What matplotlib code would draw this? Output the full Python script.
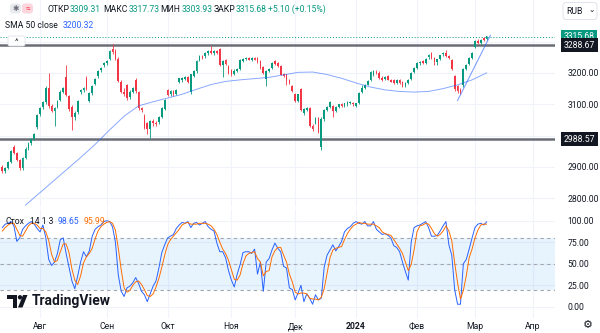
import matplotlib
matplotlib.use("Agg")
import matplotlib.pyplot as plt
import matplotlib.patches as mpatches
from matplotlib.transforms import blended_transform_factory
import numpy as np
import pandas as pd

plt.rcParams["font.family"] = ["Roboto", "DejaVu Sans"]

# ── данные ──
opens = [
    2898, 2888, 2897, 2915, 2962, 2945, 2922, 2895, 2930, 2960,
    2975, 2990, 3026, 3068, 3092, 3108, 3150, 3094, 3080, 3092,
    3115, 3140, 3186, 3126, 3092, 3058, 3075, 3138, 3146, 3182,
    3112, 3135, 3165, 3190, 3208, 3225, 3232, 3245, 3275, 3270,
    3245, 3170, 3140, 3162, 3122, 3140, 3178, 3138, 3087, 3062,
    3040, 3020, 3045, 3040, 3042, 3060, 3086, 3145, 3134, 3142,
    3134, 3172, 3178, 3180, 3186, 3140, 3190, 3205, 3243, 3254,
    3253, 3264, 3270, 3264, 3270, 3275, 3227, 3242, 3221, 3210,
    3196, 3207, 3214, 3238, 3244, 3248, 3243, 3247, 3248, 3237,
    3218, 3180, 3205, 3216, 3238, 3232, 3221, 3195, 3195, 3178,
    3157, 3131, 3110, 3147, 3072, 3083, 3088, 3030, 3040, 3054,
    2962, 3052, 3082, 3092, 3094, 3080, 3092, 3100, 3094, 3100,
    3104, 3104, 3096, 3103, 3140, 3152, 3163, 3178, 3194, 3203,
    3200, 3184, 3180, 3188, 3178, 3176, 3168, 3178, 3170, 3159,
    3168, 3180, 3203, 3215, 3231, 3236, 3232, 3250, 3263, 3247,
    3236, 3246, 3260, 3264, 3252, 3240, 3188, 3156, 3146, 3160,
    3214, 3230, 3248, 3284, 3302, 3297, 3311, 3309.31,
]
highs = [
    2905, 2900, 2918, 2955, 2970, 2948, 2926, 2932, 2962, 2978,
    2992, 3008, 3070, 3092, 3112, 3158, 3200, 3100, 3090, 3115,
    3145, 3155, 3226, 3130, 3098, 3078, 3115, 3150, 3155, 3190,
    3140, 3162, 3184, 3208, 3218, 3236, 3240, 3274, 3292, 3275,
    3250, 3176, 3152, 3166, 3145, 3155, 3184, 3142, 3092, 3068,
    3045, 3050, 3052, 3046, 3064, 3090, 3118, 3150, 3146, 3146,
    3150, 3185, 3186, 3190, 3190, 3198, 3208, 3240, 3256, 3258,
    3266, 3272, 3285, 3272, 3274, 3280, 3242, 3246, 3226, 3214,
    3212, 3216, 3244, 3248, 3252, 3252, 3250, 3252, 3252, 3240,
    3222, 3208, 3216, 3236, 3242, 3236, 3225, 3200, 3198, 3182,
    3160, 3135, 3134, 3152, 3088, 3092, 3092, 3036, 3058, 3060,
    3058, 3085, 3095, 3110, 3098, 3094, 3102, 3104, 3104, 3110,
    3112, 3108, 3104, 3138, 3160, 3165, 3178, 3206, 3210, 3208,
    3206, 3190, 3190, 3192, 3182, 3182, 3180, 3182, 3174, 3172,
    3182, 3202, 3218, 3234, 3238, 3240, 3248, 3262, 3268, 3250,
    3246, 3258, 3268, 3272, 3256, 3244, 3194, 3162, 3152, 3216,
    3228, 3250, 3266, 3306, 3308, 3310, 3315, 3317.73,
]
lows = [
    2880, 2882, 2893, 2912, 2940, 2918, 2890, 2890, 2926, 2955,
    2970, 2985, 3022, 3062, 3085, 3100, 3088, 3075, 3030, 3088,
    3110, 3135, 3125, 3080, 3018, 3050, 3070, 3132, 3140, 3145,
    3108, 3130, 3160, 3185, 3203, 3220, 3226, 3240, 3262, 3240,
    3170, 3135, 3128, 3115, 3118, 3136, 3136, 3082, 3075, 3020,
    3005, 2993, 3032, 3030, 3038, 3056, 3082, 3126, 3128, 3128,
    3130, 3168, 3172, 3176, 3168, 3132, 3186, 3200, 3238, 3244,
    3249, 3258, 3262, 3258, 3262, 3222, 3188, 3224, 3196, 3190,
    3192, 3203, 3210, 3235, 3240, 3240, 3239, 3240, 3232, 3212,
    3196, 3157, 3202, 3212, 3226, 3218, 3192, 3186, 3162, 3164,
    3138, 3106, 3106, 3078, 3066, 3078, 3026, 3016, 3036, 3008,
    2954, 3048, 3078, 3088, 3060, 3076, 3088, 3090, 3090, 3096,
    3100, 3096, 3092, 3100, 3136, 3148, 3160, 3174, 3190, 3196,
    3180, 3175, 3176, 3176, 3170, 3166, 3165, 3166, 3155, 3156,
    3165, 3176, 3200, 3212, 3226, 3228, 3228, 3246, 3244, 3226,
    3224, 3242, 3254, 3250, 3244, 3208, 3142, 3136, 3134, 3156,
    3210, 3226, 3244, 3280, 3292, 3294, 3302, 3303.93,
]
closes = [
    2888, 2897, 2915, 2950, 2945, 2922, 2895, 2928, 2958, 2972,
    2988, 3004, 3066, 3088, 3105, 3152, 3094, 3080, 3086, 3110,
    3140, 3150, 3130, 3085, 3058, 3072, 3110, 3146, 3151, 3150,
    3135, 3158, 3180, 3205, 3215, 3232, 3236, 3270, 3268, 3245,
    3175, 3140, 3132, 3120, 3140, 3150, 3142, 3087, 3082, 3025,
    3020, 3045, 3040, 3036, 3060, 3086, 3114, 3131, 3142, 3132,
    3146, 3182, 3184, 3186, 3172, 3195, 3205, 3237, 3253, 3248,
    3264, 3270, 3265, 3270, 3265, 3227, 3237, 3228, 3200, 3196,
    3207, 3212, 3240, 3244, 3248, 3243, 3247, 3243, 3237, 3216,
    3200, 3205, 3213, 3232, 3229, 3221, 3195, 3190, 3173, 3168,
    3141, 3110, 3131, 3083, 3083, 3088, 3030, 3022, 3054, 3013,
    3052, 3082, 3092, 3106, 3080, 3092, 3100, 3094, 3102, 3108,
    3108, 3100, 3102, 3135, 3152, 3162, 3175, 3202, 3205, 3200,
    3184, 3178, 3186, 3178, 3172, 3168, 3177, 3168, 3159, 3168,
    3178, 3199, 3215, 3231, 3234, 3232, 3245, 3258, 3247, 3236,
    3244, 3255, 3264, 3254, 3248, 3212, 3148, 3142, 3140, 3212,
    3224, 3246, 3262, 3302, 3297, 3306, 3306, 3315.68,
]

# SMA 50 (точки вдоль линии)
sma_idx = [8, 12, 17, 22, 27, 32, 37, 42, 47, 52, 57, 62, 67, 72, 77, 82, 87,
           92, 97, 102, 107, 112, 117, 122, 127, 132, 137, 142, 147, 152, 157, 162, 167]
sma_val = [2778, 2810, 2850, 2890, 2930, 2972, 3018, 3062, 3095, 3108, 3120, 3132,
           3148, 3163, 3173, 3178, 3182, 3186, 3194, 3202, 3203, 3195, 3183, 3168,
           3155, 3146, 3141, 3139, 3141, 3150, 3162, 3178, 3200.32]

# трендовая линия (рисунок пользователя)
trend_idx = [157, 168.3]
trend_val = [3112, 3320]

levels = [3288.67, 2988.57]
last_price = 3315.68

stoch_k = [
    92, 96, 97, 99, 94, 76, 80, 90, 94, 97,
    99, 96, 91, 87, 95, 80, 55, 48, 52, 62,
    78, 80, 62, 46, 30, 21, 36, 52, 64, 58,
    65, 82, 90, 93, 95, 99, 100, 99, 93, 75,
    37, 18, 12, 22, 24, 28, 34, 27, 18, 14,
    6, 15, 24, 30, 45, 63, 72, 80, 82, 84,
    91, 95, 98, 97, 99, 92, 97, 98, 95, 97,
    99, 93, 90, 88, 74, 64, 64, 57, 42, 31,
    23, 38, 49, 63, 64, 64, 62, 67, 38, 52,
    18, 52, 56, 66, 74, 68, 64, 47, 45, 22,
    20, 8, 16, 25, 6, 15, 10, 3, 14, 8,
    10, 46, 60, 66, 72, 65, 70, 76, 87, 91,
    93, 97, 99, 97, 96, 99, 94, 94, 99, 90,
    87, 84, 85, 83, 80, 71, 69, 64, 52, 41,
    31, 75, 92, 94, 95, 97, 99, 92, 82, 82,
    83, 88, 94, 99, 72, 60, 20, 3, 3, 50,
    55, 67, 80, 92, 96, 97, 95, 98.65,
]
stoch_d = [
    88, 92, 95, 97, 97, 90, 83, 82, 88, 94,
    97, 97, 95, 91, 91, 87, 77, 61, 52, 54,
    64, 73, 73, 63, 44, 31, 26, 36, 51, 58,
    62, 68, 79, 88, 93, 96, 98, 99, 97, 89,
    68, 43, 22, 17, 19, 25, 29, 30, 26, 20,
    13, 12, 15, 23, 33, 46, 60, 72, 78, 82,
    86, 90, 95, 97, 98, 96, 96, 96, 97, 97,
    97, 96, 94, 90, 84, 75, 67, 62, 54, 43,
    32, 31, 37, 50, 59, 62, 63, 64, 56, 52,
    36, 41, 42, 58, 65, 69, 69, 60, 52, 38,
    29, 17, 15, 16, 16, 15, 10, 9, 9, 8,
    11, 21, 39, 57, 66, 68, 69, 70, 78, 85,
    90, 94, 96, 98, 97, 97, 96, 96, 96, 94,
    92, 87, 85, 84, 83, 78, 73, 68, 62, 52,
    42, 49, 66, 87, 94, 95, 97, 96, 91, 85,
    82, 84, 88, 94, 88, 77, 51, 28, 9, 19,
    36, 57, 67, 80, 89, 95, 96, 95.99,
]

month_names = ["Авг", "Сен", "Окт", "Ноя", "Дек", "2024", "Фев", "Мар", "Апр"]
price_ticks = [2800, 2900, 3100, 3200]
price_grid = [2800, 2900, 3000, 3100, 3200, 3300]
stoch_ticks = [0, 25, 50, 75, 100]

UP, DOWN = "#089981", "#f23645"
TXT = "#131722"
GRID = "#f0f3fa"
FS = 6.2

# торговые дни (без праздников MOEX)
days = pd.bdate_range("2023-07-13", "2024-04-30")
days = days[~days.isin(pd.to_datetime(["2024-01-01", "2024-01-02", "2024-02-23", "2024-03-08"]))]
month_pos = [i for i in range(1, len(days)) if days[i].month != days[i - 1].month][:len(month_names)]

n = len(closes)
x = np.arange(n)
o, h, l, c = map(np.array, (opens, highs, lows, closes))
col = np.where(c >= o, UP, DOWN)

W, H = 600, 333
fig = plt.figure(figsize=(6, 3.33), dpi=100)
fig.patch.set_facecolor("white")
ax = fig.add_axes([0, 1 - 207 / H, 555 / W, 207 / H])
ax2 = fig.add_axes([0, 15 / H, 555 / W, 109 / H])
xlim = (-0.8, 190.6)

# ── ценовая панель ──
for g in price_grid:
    ax.axhline(g, color=GRID, lw=0.8, zorder=0)
for p in month_pos:
    ax.axvline(p, color=GRID, lw=0.8, zorder=0)
ax.vlines(x, l, h, color=col, lw=0.6, zorder=2)
ax.bar(x, np.abs(c - o) + 0.8, bottom=np.minimum(o, c), width=0.6, color=col, zorder=3)
ax.plot(sma_idx, sma_val, color="#2962ff", alpha=0.55, lw=0.7, zorder=4)
ax.plot(trend_idx, trend_val, color="#2962ff", alpha=0.6, lw=0.8, zorder=4)
for lv in levels:
    ax.axhline(lv, color="#6a6d78", lw=1.8, zorder=1)
ax.axhline(last_price, color=UP, lw=0.7, ls=(0, (1, 2)), zorder=1)
ax.set_xlim(*xlim)
ax.set_ylim(2772, 3433)
ax.yaxis.tick_right()
ax.set_yticks(price_ticks)
ax.set_yticklabels([f"{t:.2f}" for t in price_ticks])
ax.tick_params(axis="y", length=0, pad=9, labelsize=FS, labelcolor=TXT)
ax.set_xticks([])
for s in ax.spines.values():
    s.set_visible(False)

tr = blended_transform_factory(ax.transAxes, ax.transData)
for val, fc in [(last_price, UP), (levels[0], TXT), (levels[1], TXT)]:
    ax.text(1.016, val, f"{val:.2f}", transform=tr, ha="left", va="center",
            fontsize=FS, color="white", clip_on=False,
            bbox=dict(boxstyle="square,pad=0.3", fc=fc, ec="none"))

# ── стохастик ──
for g in stoch_ticks:
    ax2.axhline(g, color=GRID, lw=0.8, zorder=0)
for p in month_pos:
    ax2.axvline(p, color=GRID, lw=0.8, zorder=0)
ax2.axhspan(20, 80, color="#2196f3", alpha=0.1, lw=0, zorder=0)
for g in (80, 50, 20):
    ax2.axhline(g, color="#a3a6af", lw=0.8, ls=(0, (3, 3)), zorder=1)
ax2.plot(x, stoch_k, color="#2962ff", lw=0.7, zorder=3)
ax2.plot(x, stoch_d, color="#ff6d00", lw=0.7, zorder=3)
ax2.set_xlim(*xlim)
ax2.set_ylim(-13, 113.6)
ax2.yaxis.tick_right()
ax2.set_yticks(stoch_ticks)
ax2.set_yticklabels([f"{t:.2f}" for t in stoch_ticks])
ax2.tick_params(axis="y", length=0, pad=9, labelsize=FS, labelcolor=TXT)
ax2.set_xticks(month_pos)
ax2.set_xticklabels(month_names)
ax2.tick_params(axis="x", length=0, pad=3, labelsize=FS, labelcolor=TXT)
for lab in ax2.get_xticklabels():
    if lab.get_text() == "2024":
        lab.set_fontweight("bold")
for s in ax2.spines.values():
    s.set_visible(False)

# ── надписи поверх графика (в пикселях) ──
ov = fig.add_axes([0, 0, 1, 1], facecolor="none")
ov.set_xlim(0, W)
ov.set_ylim(H, 0)
ov.axis("off")
renderer = fig.canvas.get_renderer()


def row(items, y, gap=1.5):
    """Текст подряд: каждый кусок не раньше своей позиции и после предыдущего."""
    end = 0
    for px, s, cc in items:
        t = ov.text(max(px, end + gap), y, s, fontsize=FS, color=cc, ha="left", va="center")
        bb = t.get_window_extent(renderer)
        end = bb.x1


ov.add_patch(mpatches.FancyBboxPatch((10, 3.5), 11, 10, boxstyle="round,pad=0,rounding_size=3",
                                     fc="#e9eaee", ec="none"))
ov.text(15.5, 8.8, "✱", fontsize=5.5, color="#6a6d78", ha="center", va="center")
ov.add_patch(mpatches.FancyBboxPatch((22, 3.5), 11, 10, boxstyle="round,pad=0,rounding_size=3",
                                     fc="#fbd6dc", ec="none"))
ov.text(27.5, 8.8, "≈", fontsize=6, color=DOWN, ha="center", va="center")

row([(47, "ОТКР", TXT), (68, "3309.31", UP), (103, "МАКС", TXT), (125, "3317.73", UP),
     (159, "МИН", TXT), (178, "3303.93", UP), (212, "ЗАКР", TXT), (233, "3315.68", UP),
     (267, "+5.10 (+0.15%)", UP)], 9, gap=1)
row([(5, "SMA 50 close", TXT), (60, "3200.32", "#2962ff")], 25, gap=5)

ov.add_patch(mpatches.FancyBboxPatch((8, 36), 17, 10, boxstyle="round,pad=0,rounding_size=2",
                                     fc="white", ec="#e0e3eb", lw=0.6))
ov.text(16.5, 42, "^", fontsize=6, color=TXT, ha="center", va="center")

ov.add_patch(mpatches.FancyBboxPatch((563, 2.5), 34, 17, boxstyle="round,pad=0,rounding_size=3",
                                     fc="white", ec="#e0e3eb", lw=0.7))
ov.text(566, 11, "RUB", fontsize=FS, color=TXT, ha="left", va="center")
ov.text(592, 10, "⌄", fontsize=5.5, color=TXT, ha="center", va="center")

row([(5, "Стох", TXT), (30, "14 1 3", TXT), (58, "98.65", "#2962ff"), (83, "95.99", "#ff6d00")],
    221, gap=4)

# логотип TradingView
ov.add_patch(mpatches.Rectangle((7, 295), 9.5, 4, fc=TXT, ec="none"))
ov.add_patch(mpatches.Rectangle((12.5, 295), 4, 12.5, fc=TXT, ec="none"))
ov.add_patch(mpatches.Circle((20, 297.3), 2.2, fc=TXT, ec="none"))
ov.add_patch(mpatches.Polygon([(18, 307.5), (22.5, 307.5), (27.5, 295), (23, 295)], fc=TXT, ec="none"))
ov.text(32, 301.5, "TradingView", fontsize=10, fontweight="bold", color=TXT, ha="left", va="center")

ov.text(588, 325, "⚙", fontsize=8, color=TXT, ha="center", va="center",
        family=["DejaVu Sans"])

fig.savefig("out.png", dpi=100, facecolor="white")
